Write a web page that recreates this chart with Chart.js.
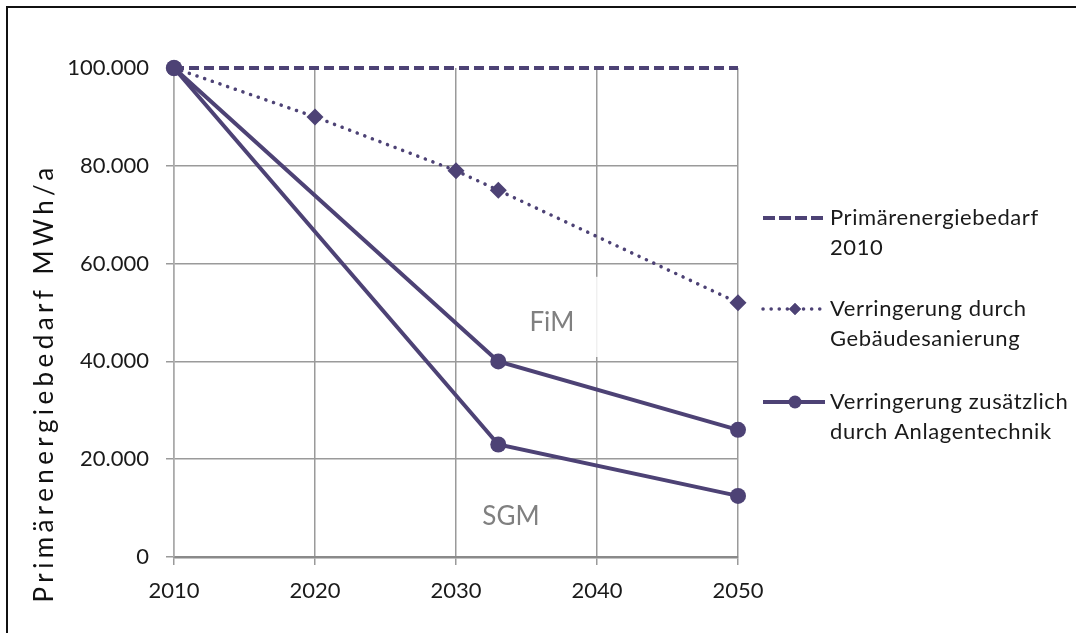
<!DOCTYPE html>
<html lang="de">
<head>
<meta charset="utf-8">
<title>Primärenergiebedarf</title>
<script src="https://cdn.jsdelivr.net/npm/chart.js@4.4.1/dist/chart.umd.min.js"></script>
<style>
  html, body { margin: 0; padding: 0; background: #ffffff; }
  #wrap { width: 1076px; height: 633px; position: relative; }
</style>
</head>
<body>
<div id="wrap"><canvas id="chart" width="1076" height="633"></canvas></div>
<script>
// Jahre und Werte (MWh/a)
const baseYears = [2010, 2050];
const baseValues = [100000, 100000];

const renovYears = [2010, 2020, 2030, 2033, 2050];
const renovValues = [100000, 90000, 79000, 75000, 52000];

const techYears = [2010, 2033, 2050];
const fimValues = [100000, 40000, 26000];
const sgmValues = [100000, 23000, 12500];

const xTicks = [2010, 2020, 2030, 2040, 2050];
const yTicks = [0, 20000, 40000, 60000, 80000, 100000];

const legendLabels = [
  ['Primärenergiebedarf', '2010'],
  ['Verringerung durch', 'Gebäudesanierung'],
  ['Verringerung zusätzlich', 'durch Anlagentechnik']
];
const yTitle = 'Primärenergiebedarf MWh/a';

// Beschriftungen im Diagramm: [Text, Jahr, Wert]
const areaLabels = [
  ['FiM', 2036.8, 47900],
  ['SGM', 2033.9, 8200]
];

const LINE = '#4d4275';
const FONT = 'Lato, "Open Sans", sans-serif';

const pts = (xs, ys) => xs.map((x, i) => ({ x, y: ys[i] }));
const fmt = v => String(v).replace(/\B(?=(\d{3})+(?!\d))/g, '.');

// Rahmen, Achsentitel, Flächenbeschriftungen und Legende
const decorations = {
  id: 'decorations',
  beforeDraw(chart) {
    const ctx = chart.ctx;
    ctx.save();
    ctx.fillStyle = '#ffffff';
    ctx.fillRect(0, 0, chart.width, chart.height);
    ctx.strokeStyle = '#111111';
    ctx.lineWidth = 2;
    ctx.beginPath();
    ctx.moveTo(7, chart.height);
    ctx.lineTo(7, 7);
    ctx.lineTo(chart.width, 7);
    ctx.stroke();
    ctx.restore();
  },
  beforeDatasetsDraw(chart) {
    const ctx = chart.ctx;
    const xs = chart.scales.x, ys = chart.scales.y;
    ctx.save();
    // heller Hintergrund hinter "FiM"
    const x0 = xs.getPixelForValue(2031.2), x1 = xs.getPixelForValue(2040.3);
    const y0 = ys.getPixelForValue(57300), y1 = ys.getPixelForValue(40900);
    ctx.fillStyle = 'rgba(255,255,255,0.85)';
    ctx.fillRect(x0, y0, x1 - x0, y1 - y0);
    ctx.fillStyle = '#808080';
    ctx.font = '26px ' + FONT;
    ctx.textAlign = 'center';
    ctx.textBaseline = 'middle';
    areaLabels.forEach(([t, x, y]) => {
      ctx.fillText(t, xs.getPixelForValue(x), ys.getPixelForValue(y));
    });
    ctx.restore();
  },
  afterDraw(chart) {
    const ctx = chart.ctx;
    ctx.save();
    // Achsentitel
    ctx.translate(45, 383);
    ctx.rotate(-Math.PI / 2);
    ctx.fillStyle = '#111111';
    ctx.font = '26px ' + FONT;
    ctx.letterSpacing = '4.4px';
    ctx.textAlign = 'center';
    ctx.textBaseline = 'middle';
    ctx.fillText(yTitle, 0, 0);
    ctx.restore();

    // Legende
    const rows = [218, 309, 402];
    const sx0 = 763, sx1 = 825, tx = 830;
    chart.data.datasets.forEach((ds, i) => {
      if (i >= legendLabels.length) return;
      const y = rows[i];
      ctx.save();
      ctx.strokeStyle = ds.borderColor;
      ctx.lineWidth = ds.borderWidth;
      ctx.lineCap = ds.borderCapStyle || 'butt';
      ctx.setLineDash(i === 0 ? [12, 4] : (ds.borderDash || []));
      ctx.beginPath();
      ctx.moveTo(sx0, y);
      ctx.lineTo(sx1, y);
      ctx.stroke();
      ctx.setLineDash([]);
      const cx = (sx0 + sx1) / 2 + 1;
      ctx.fillStyle = ds.pointBackgroundColor;
      if (ds.pointStyle === 'rectRot' && ds.pointRadius > 0) {
        Chart.helpers.drawPoint(ctx, { pointStyle: 'rectRot', radius: 6, borderWidth: 0 }, cx, y);
        ctx.fill();
      } else if (ds.pointStyle === 'circle' && ds.pointRadius > 0) {
        ctx.beginPath();
        ctx.arc(cx, y, 6.5, 0, Math.PI * 2);
        ctx.fill();
      }
      ctx.fillStyle = '#1a1a1a';
      ctx.font = '22px ' + FONT;
      ctx.letterSpacing = '0.6px';
      ctx.textAlign = 'left';
      ctx.textBaseline = 'middle';
      legendLabels[i].forEach((line, k) => ctx.fillText(line, tx, y + k * 30));
      ctx.restore();
    });
  }
};

const lineStyle = {
  showLine: true,
  clip: false,
  borderColor: LINE,
  backgroundColor: LINE,
  borderWidth: 4,
  pointBorderWidth: 0,
  pointBackgroundColor: LINE
};

new Chart(document.getElementById('chart'), {
  type: 'scatter',
  data: {
    datasets: [
      Object.assign({}, lineStyle, {
        label: 'Primärenergiebedarf 2010',
        data: pts(baseYears, baseValues),
        borderDash: [10, 5],
        pointRadius: 0,
        pointStyle: 'line'
      }),
      Object.assign({}, lineStyle, {
        label: 'Verringerung durch Gebäudesanierung',
        data: pts(renovYears, renovValues),
        borderWidth: 3.5,
        borderDash: [0.1, 8],
        borderCapStyle: 'round',
        pointStyle: 'rectRot',
        pointRadius: 8.5
      }),
      Object.assign({}, lineStyle, {
        label: 'FiM',
        data: pts(techYears, fimValues),
        pointStyle: 'circle',
        pointRadius: 8
      }),
      Object.assign({}, lineStyle, {
        label: 'SGM',
        data: pts(techYears, sgmValues),
        pointStyle: 'circle',
        pointRadius: 8
      })
    ]
  },
  options: {
    responsive: false,
    animation: false,
    devicePixelRatio: 1,
    layout: { padding: { left: 0, top: 68, right: 338, bottom: 0 } },
    plugins: {
      legend: { display: false },
      tooltip: { enabled: false }
    },
    scales: {
      x: {
        type: 'linear',
        min: 2010,
        max: 2050,
        afterBuildTicks: s => { s.ticks = xTicks.map(v => ({ value: v })); },
        afterFit: s => { s.height = 76; },
        ticks: {
          color: '#1a1a1a',
          font: { family: FONT, size: 22 },
          padding: 13,
          maxRotation: 0,
          callback: v => String(v)
        },
        grid: {
          color: '#9a9a9a',
          lineWidth: 1.5,
          tickLength: 8,
          drawOnChartArea: true
        },
        border: { color: '#8a8a8a', width: 2.5 }
      },
      y: {
        min: 0,
        max: 100000,
        afterBuildTicks: s => { s.ticks = yTicks.map(v => ({ value: v })); },
        afterFit: s => { s.width = 174; },
        ticks: {
          color: '#1a1a1a',
          font: { family: FONT, size: 22 },
          padding: 17,
          callback: v => fmt(v)
        },
        grid: {
          color: c => (c.tick && c.tick.value === 100000 ? 'rgba(0,0,0,0)' : '#9a9a9a'),
          lineWidth: 1.5,
          tickLength: 8
        },
        border: { color: '#aaaaaa', width: 1.5 }
      }
    }
  },
  plugins: [decorations]
});
</script>
</body>
</html>
